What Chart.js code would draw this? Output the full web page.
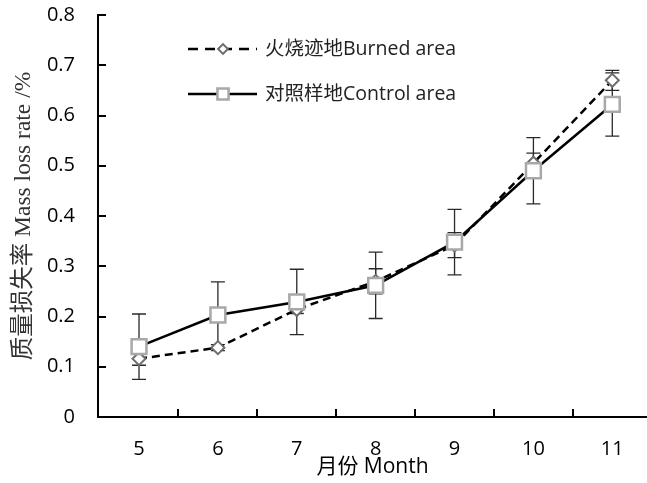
<!DOCTYPE html>
<html>
<head>
<meta charset="utf-8">
<script src="https://cdn.jsdelivr.net/npm/chart.js@4.4.0/dist/chart.umd.min.js"></script>
<style>
  html, body { margin: 0; padding: 0; background: #fff; }
  #wrap { width: 647px; height: 483px; }
</style>
</head>
<body>
<div id="wrap"><canvas id="myChart" width="647" height="483"></canvas></div>
<script>
// valores
const months = [5, 6, 7, 8, 9, 10, 11];
const burned = [0.116, 0.138, 0.214, 0.27, 0.342, 0.505, 0.67];
const burnedErr = [0.013, 0.006, 0.008, 0.025, 0.025, 0.02, 0.02];
const control = [0.140, 0.203, 0.229, 0.262, 0.348, 0.49, 0.622];
const controlErr = [0.065, 0.066, 0.065, 0.066, 0.065, 0.066, 0.063];
const yTickLabels = ['0', '0.1', '0.2', '0.3', '0.4', '0.5', '0.6', '0.7', '0.8'];
const labelBurned = '火烧迹地Burned area';
const labelControl = '对照样地Control area';
const xTitle = '月份 Month';
const yTitle = '质量损失率 Mass loss rate /%';

const SANS = '"Open Sans", "Noto Sans CJK SC", sans-serif';
const SERIF = '"Liberation Serif", "Noto Sans CJK SC", serif';

const errorBars = {
  id: 'errorBars',
  beforeDatasetsDraw(chart) {
    const { ctx, scales: { y } } = chart;
    chart.data.datasets.forEach((ds, i) => {
      const meta = chart.getDatasetMeta(i);
      ctx.save();
      ctx.strokeStyle = '#2a2a2a';
      ctx.lineWidth = 1.3;
      meta.data.forEach((pt, j) => {
        const v = ds.data[j].y, e = ds.errors[j];
        const top = y.getPixelForValue(v + e), bot = y.getPixelForValue(v - e);
        ctx.beginPath();
        ctx.moveTo(pt.x, top); ctx.lineTo(pt.x, bot);
        ctx.moveTo(pt.x - 7, top); ctx.lineTo(pt.x + 7, top);
        ctx.moveTo(pt.x - 7, bot); ctx.lineTo(pt.x + 7, bot);
        ctx.stroke();
      });
      ctx.restore();
    });
  }
};

// marcas de escala para dentro
const innerTicks = {
  id: 'innerTicks',
  afterDraw(chart) {
    const { ctx, chartArea, scales: { x, y } } = chart;
    ctx.save();
    ctx.strokeStyle = '#000';
    ctx.lineWidth = 2;
    ctx.beginPath();
    for (let i = 1; i < yTickLabels.length; i++) {
      const py = Math.round(y.getPixelForValue(i / 10));
      ctx.moveTo(chartArea.left, py); ctx.lineTo(chartArea.left + 8, py);
    }
    months.slice(1).forEach(m => {
      const px = Math.round(x.getPixelForValue(m - 0.5));
      ctx.moveTo(px, chartArea.bottom); ctx.lineTo(px, chartArea.bottom - 8);
    });
    ctx.stroke();
    ctx.restore();
  }
};

const legendBox = {
  id: 'legendBox',
  afterDraw(chart) {
    const { ctx } = chart;
    const rows = [0, 1].map(i => chart.data.datasets[i]);
    rows.forEach((ds, i) => {
      const cy = 49 + i * 45;
      ctx.save();
      ctx.strokeStyle = ds.borderColor;
      ctx.lineWidth = ds.borderWidth;
      ctx.setLineDash(ds.borderDash ? [10, 7] : []);
      ctx.beginPath();
      ctx.moveTo(188, cy); ctx.lineTo(257, cy);
      ctx.stroke();
      ctx.setLineDash([]);
      ctx.fillStyle = ds.pointBackgroundColor;
      ctx.strokeStyle = ds.pointBorderColor;
      ctx.lineWidth = ds.pointBorderWidth;
      Chart.helpers.drawPoint(ctx, {
        pointStyle: ds.pointStyle, rotation: 0,
        radius: ds.pointRadius * 0.75, borderWidth: ds.pointBorderWidth
      }, 223, cy);
      ctx.fillStyle = '#222';
      ctx.font = '19.5px ' + SANS;
      ctx.textBaseline = 'middle';
      ctx.fillText(ds.label, 265, cy);
      ctx.restore();
    });
  }
};

const ctx = document.getElementById('myChart').getContext('2d');
const chart = new Chart(ctx, {
  type: 'line',
  data: {
    datasets: [
      {
        label: labelBurned,
        data: months.map((m, i) => ({ x: m, y: burned[i] })),
        errors: burnedErr,
        order: 1,
        borderColor: '#000', borderWidth: 2.5, borderDash: [8, 5],
        pointStyle: 'rectRot', pointRadius: 6.5, pointBorderWidth: 2,
        pointBorderColor: '#6e6e6e', pointBackgroundColor: '#fff',
        tension: 0
      },
      {
        label: labelControl,
        data: months.map((m, i) => ({ x: m, y: control[i] })),
        errors: controlErr,
        order: 0,
        borderColor: '#000', borderWidth: 2.5,
        pointStyle: 'rect', pointRadius: 10.5, pointBorderWidth: 2.5,
        pointBorderColor: '#a8a8a8', pointBackgroundColor: '#fff',
        tension: 0
      }
    ]
  },
  options: {
    responsive: false,
    devicePixelRatio: 1,
    animation: false,
    layout: { autoPadding: false, padding: { top: 15, right: 0, bottom: 0, left: 0 } },
    plugins: { legend: { display: false }, tooltip: { enabled: false } },
    scales: {
      x: {
        type: 'linear', min: 4.48, max: 11.44,
        afterBuildTicks: s => { s.ticks = months.map(v => ({ value: v })); },
        afterFit: s => { s.height = 66; s.paddingLeft = 0; s.paddingRight = 0; },
        grid: { display: false, drawTicks: false },
        border: { display: true, color: '#000', width: 2 },
        ticks: { color: '#000', font: { family: SANS, size: 20 }, padding: 20, maxRotation: 0 },
        title: { display: true, text: xTitle, color: '#000', font: { family: SANS, size: 21 }, padding: { top: 0, bottom: 3 } }
      },
      y: {
        min: 0, max: 0.8,
        afterBuildTicks: s => { s.ticks = yTickLabels.map((t, i) => ({ value: i / 10 })); },
        afterFit: s => { s.width = 98; s.paddingTop = 0; s.paddingBottom = 0; },
        grid: { display: false, drawTicks: false },
        border: { display: true, color: '#000', width: 2 },
        ticks: { color: '#000', font: { family: SANS, size: 20 }, padding: 23, callback: (v, i) => yTickLabels[i] },
        title: { display: true, text: yTitle, color: '#333', font: { family: SERIF, size: 23.5 }, padding: { top: 10, bottom: 0 } }
      }
    }
  },
  plugins: [errorBars, innerTicks, legendBox]
});
</script>
</body>
</html>
